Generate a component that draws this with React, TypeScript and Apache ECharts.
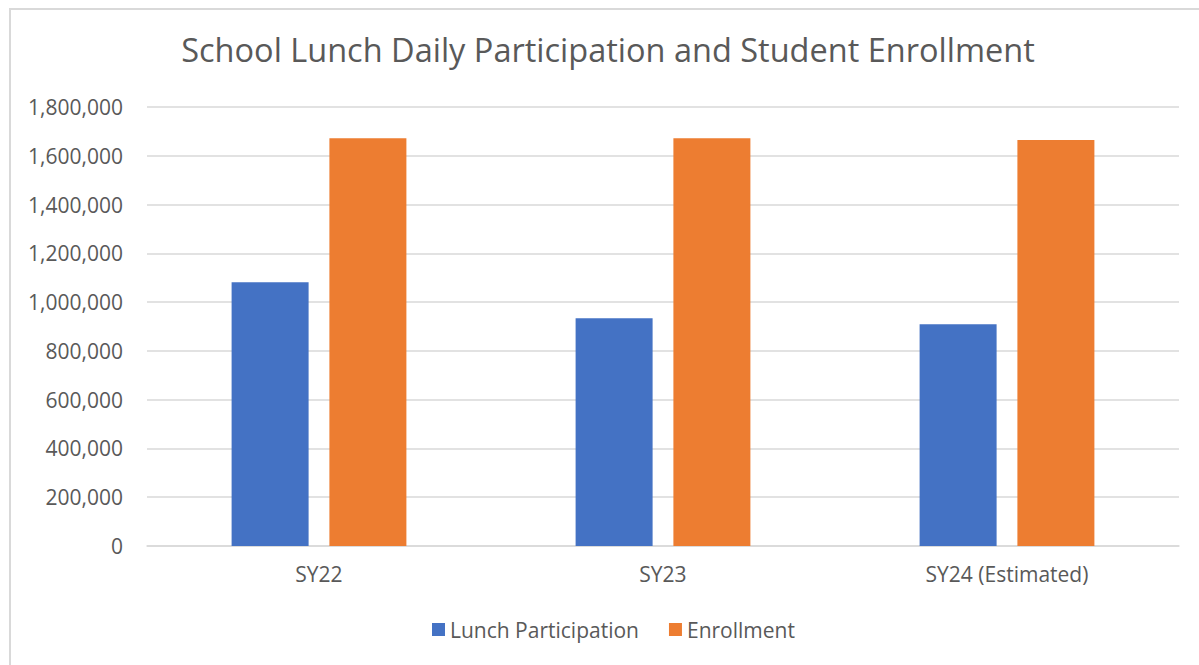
import React, { useEffect, useRef } from "react";
import * as echarts from "echarts";

const categories = ["SY22", "SY23", "SY24 (Estimated)"];
const lunchParticipation = [1081000, 934000, 909000];
const enrollment = [1672000, 1672000, 1665000];
const seriesNames = ["Lunch Participation", "Enrollment"];
const titleText = "School Lunch Daily Participation and Student Enrollment";

const FONT = "'Open Sans', 'Noto Sans', sans-serif";
const TEXT_COLOR = "#595959";

export default function App() {
  const ref = useRef<HTMLDivElement>(null);

  useEffect(() => {
    if (!ref.current) return;
    const chart = echarts.init(ref.current, null, { renderer: "svg" });
    chart.setOption({
      animation: false,
      backgroundColor: "#ffffff",
      textStyle: { fontFamily: FONT },
      title: {
        text: titleText,
        left: 608,
        textAlign: "center",
        top: 33,
        padding: 0,
        textStyle: {
          fontFamily: FONT,
          fontSize: 32.5,
          fontWeight: "normal",
          color: TEXT_COLOR,
        },
      },
      graphic: [
        {
          type: "rect",
          shape: { x: 10, y: 9, width: 1400, height: 1000 },
          style: { fill: "none", stroke: "#d9d9d9", lineWidth: 2 },
          silent: true,
        },
      ],
      legend: {
        data: seriesNames,
        left: 432,
        top: 619,
        padding: 0,
        itemWidth: 13,
        itemHeight: 13,
        itemGap: 30,
        icon: "rect",
        textStyle: { fontFamily: FONT, fontSize: 21, color: TEXT_COLOR },
      },
      grid: { left: 147, right: 20, top: 107, bottom: 119, containLabel: false },
      xAxis: {
        type: "category",
        data: categories,
        axisLine: { lineStyle: { color: "#d9d9d9", width: 1.5 } },
        axisTick: { show: false },
        axisLabel: { fontFamily: FONT, fontSize: 21, color: TEXT_COLOR, margin: 17 },
      },
      yAxis: {
        type: "value",
        min: 0,
        max: 1800000,
        interval: 200000,
        axisLine: { show: false },
        axisTick: { show: false },
        splitLine: { lineStyle: { color: "#d9d9d9", width: 1.5 } },
        axisLabel: {
          fontFamily: FONT,
          fontSize: 21,
          color: TEXT_COLOR,
          margin: 24,
          formatter: (v: number) => v.toLocaleString("en-US"),
        },
      },
      series: [
        {
          name: seriesNames[0],
          type: "bar",
          data: lunchParticipation,
          barWidth: 77,
          barGap: "27%",
          itemStyle: { color: "#4472C4" },
        },
        {
          name: seriesNames[1],
          type: "bar",
          data: enrollment,
          barWidth: 77,
          barGap: "27%",
          itemStyle: { color: "#ED7D31" },
        },
      ],
    });
    return () => chart.dispose();
  }, []);

  return (
    <div
      ref={ref}
      style={{ position: "fixed", left: 0, top: 0, width: 1199, height: 665 }}
    />
  );
}
